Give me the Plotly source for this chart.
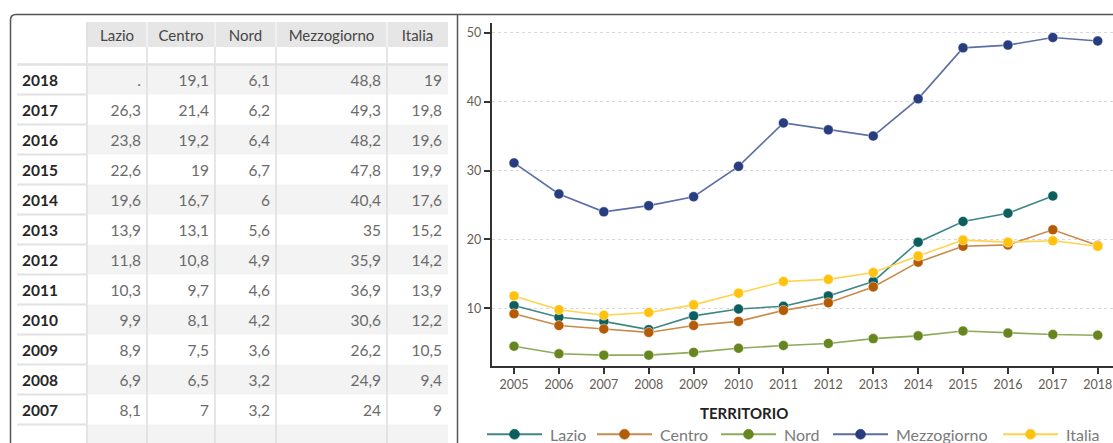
import plotly.graph_objects as go

# ---- data -------------------------------------------------------------
years = list(range(2005, 2019))
series_names = ["Lazio", "Centro", "Nord", "Mezzogiorno", "Italia"]
lazio = [10.4, 8.7, 8.1, 6.9, 8.9, 9.9, 10.3, 11.8, 13.9, 19.6, 22.6, 23.8, 26.3, None]
centro = [9.2, 7.5, 7.0, 6.5, 7.5, 8.1, 9.7, 10.8, 13.1, 16.7, 19.0, 19.2, 21.4, 19.1]
nord = [4.5, 3.4, 3.2, 3.2, 3.6, 4.2, 4.6, 4.9, 5.6, 6.0, 6.7, 6.4, 6.2, 6.1]
mezzogiorno = [31.1, 26.6, 24.0, 24.9, 26.2, 30.6, 36.9, 35.9, 35.0, 40.4, 47.8, 48.2, 49.3, 48.8]
italia = [11.8, 9.8, 9.0, 9.4, 10.5, 12.2, 13.9, 14.2, 15.2, 17.6, 19.9, 19.6, 19.8, 19.0]
series = [lazio, centro, nord, mezzogiorno, italia]
table_first_year = 2007
y_ticks = [10, 20, 30, 40, 50]
legend_title = "TERRITORIO"

# ---- styling ----------------------------------------------------------
marker_colors = ["#0d5f5f", "#b45b06", "#67861f", "#283d7f", "#ffc20f"]
line_colors = ["#3f8787", "#c98a4c", "#8eaa5c", "#5c6ea6", "#ffd34f"]
FONT = "Lato"
W, H = 1113, 443
TEXT_DY = 2.5  # optical baseline correction for table text


def px(x):
    return x / W


def py(y):
    return 1 - y / H


def fmt(v):
    return "." if v is None else f"{v:g}".replace(".", ",")


fig = go.Figure()

# ---- line chart -------------------------------------------------------
for name, vals, mc, lc in zip(series_names, series, marker_colors, line_colors):
    fig.add_trace(go.Scatter(
        x=years, y=vals, name=name, mode="lines+markers",
        line=dict(color=lc, width=1.6),
        marker=dict(color=mc, size=10, line=dict(color="rgba(255,255,255,0.6)", width=0.8)),
        connectgaps=False, showlegend=False,
        hovertemplate="%{x}: %{y}<extra>" + name + "</extra>",
    ))

# ---- table (text grid on its own pixel-scaled axes) -------------------
table_years = [y for y in years if y >= table_first_year][::-1]
n_rows = len(table_years)
col_edges = [17, 87, 147, 215, 276, 387, 448]
head_top, head_bottom, rule_y, row_h = 22, 47, 64.5, 30
row_mid = [rule_y + row_h * (i + 0.5) + TEXT_DY for i in range(n_rows)]

shapes = []
# header band and striped rows
shapes.append(dict(type="rect", xref="x2", yref="y2", layer="below",
                   x0=col_edges[1], x1=col_edges[-1], y0=head_top, y1=head_bottom,
                   fillcolor="#e6e6e6", line=dict(width=0)))
for i in range(0, n_rows + 1, 2):
    shapes.append(dict(type="rect", xref="x2", yref="y2", layer="below",
                       x0=col_edges[1], x1=col_edges[-1],
                       y0=rule_y + row_h * i, y1=min(rule_y + row_h * (i + 1), H),
                       fillcolor="#f3f3f3", line=dict(width=0)))
# column separators
for i, xe in enumerate(col_edges[1:-1]):
    shapes.append(dict(type="line", xref="x2", yref="y2", layer="below",
                       x0=xe, x1=xe, y0=head_top if i == 0 else head_bottom, y1=H,
                       line=dict(color="#dedede", width=1.5)))
    if i > 0:
        shapes.append(dict(type="line", xref="x2", yref="y2", layer="below",
                           x0=xe, x1=xe, y0=head_top, y1=head_bottom,
                           line=dict(color="#f4f4f4", width=1.5)))
# header rule and year column row rules
shapes.append(dict(type="line", xref="x2", yref="y2", layer="below",
                   x0=col_edges[0], x1=col_edges[-1], y0=rule_y, y1=rule_y,
                   line=dict(color="#e2e2e2", width=2.5)))
for k in range(1, n_rows + 1):
    yy = rule_y + k * row_h
    shapes.append(dict(type="line", xref="x2", yref="y2", layer="below",
                       x0=col_edges[0], x1=col_edges[1] - 1, y0=yy, y1=yy,
                       line=dict(color="#e2e2e2", width=2)))

# header labels
fig.add_trace(go.Scatter(
    x=[(a + b) / 2 for a, b in zip(col_edges[1:-1], col_edges[2:])],
    y=[(head_top + head_bottom) / 2 + TEXT_DY] * len(series_names),
    text=series_names, mode="text", textposition="middle center",
    textfont=dict(family=FONT, size=15, color="#454545"),
    xaxis="x2", yaxis="y2", showlegend=False, hoverinfo="skip", cliponaxis=False))
# year labels
fig.add_trace(go.Scatter(
    x=[col_edges[0] + 5] * n_rows, y=row_mid,
    text=[f"<b>{y}</b>" for y in table_years], mode="text", textposition="middle right",
    textfont=dict(family=FONT, size=15.5, color="#262626"),
    xaxis="x2", yaxis="y2", showlegend=False, hoverinfo="skip", cliponaxis=False))
# values
for j, (name, s) in enumerate(zip(series_names, series)):
    fig.add_trace(go.Scatter(
        x=[col_edges[j + 2] - 6] * n_rows, y=row_mid,
        text=[fmt(s[years.index(y)]) for y in table_years],
        mode="text", textposition="middle left",
        textfont=dict(family=FONT, size=15.5, color="#6b6b6b"),
        xaxis="x2", yaxis="y2", showlegend=False, hoverinfo="skip", cliponaxis=False))

# panel frame and divider
frame = (f"M {px(10.5)},{py(H)} L {px(10.5)},{py(20)} "
         f"Q {px(10.5)},{py(14.5)} {px(16)},{py(14.5)} L {px(W)},{py(14.5)}")
shapes.append(dict(type="path", xref="paper", yref="paper", path=frame,
                   line=dict(color="#555555", width=1.5)))
shapes.append(dict(type="line", xref="paper", yref="paper",
                   x0=px(457.5), x1=px(457.5), y0=py(14.5), y1=py(H),
                   line=dict(color="#555555", width=1.5)))

# ---- custom legend ----------------------------------------------------
legend_x = [487, 597, 721, 833, 1003]
legend_y = 434.3
annotations = [dict(text=f"<b>{legend_title}</b>", x=px(790), y=py(412.5),
                    xref="paper", yref="paper", showarrow=False, yanchor="middle",
                    font=dict(family=FONT, size=15, color="#222222"))]
for name, x0, mc, lc in zip(series_names, legend_x, marker_colors, line_colors):
    shapes.append(dict(type="line", xref="paper", yref="paper",
                       x0=px(x0), x1=px(x0 + 55), y0=py(legend_y), y1=py(legend_y),
                       line=dict(color=lc, width=2)))
    shapes.append(dict(type="circle", xref="paper", yref="paper",
                       xsizemode="pixel", ysizemode="pixel",
                       xanchor=px(x0 + 27.5), yanchor=py(legend_y),
                       x0=-5, x1=5, y0=-5, y1=5,
                       fillcolor=mc, line=dict(color=mc, width=0.5)))
    annotations.append(dict(text=name, x=px(x0 + 61), y=py(legend_y),
                            xref="paper", yref="paper", xanchor="left", yanchor="middle",
                            showarrow=False,
                            font=dict(family=FONT, size=16, color="#7a7a7a")))

tick_font = dict(family=FONT, size=12.5, color="#665c54")
fig.update_layout(
    width=W, height=H, autosize=False,
    margin=dict(l=0, r=0, t=0, b=0),
    paper_bgcolor="#ffffff", plot_bgcolor="rgba(0,0,0,0)",
    shapes=shapes, annotations=annotations,
    xaxis=dict(domain=[px(491.7), 1], range=[2004.503, 2018.34],
               tickvals=years, ticktext=[str(y) for y in years],
               showgrid=False, zeroline=False,
               showline=True, linecolor="#333333", linewidth=2,
               ticks="outside", ticklen=6, tickcolor="#333333", tickwidth=1.5,
               tickfont=tick_font),
    yaxis=dict(domain=[py(365.7), py(22.7)], range=[1.67, 51.45],
               tickvals=y_ticks, showgrid=True, gridcolor="#d8d8d8",
               griddash="dot", gridwidth=1, zeroline=False,
               showline=True, linecolor="#333333", linewidth=2,
               ticks="outside", ticklen=6, tickcolor="#333333", tickwidth=1.5,
               tickfont=tick_font),
    xaxis2=dict(domain=[px(col_edges[0]), px(col_edges[-1])],
                range=[col_edges[0], col_edges[-1]], anchor="y2", visible=False,
                fixedrange=True),
    yaxis2=dict(domain=[py(H), py(head_top)], range=[H, head_top], anchor="x2",
                visible=False, fixedrange=True),
)

fig.write_html("out.html")
